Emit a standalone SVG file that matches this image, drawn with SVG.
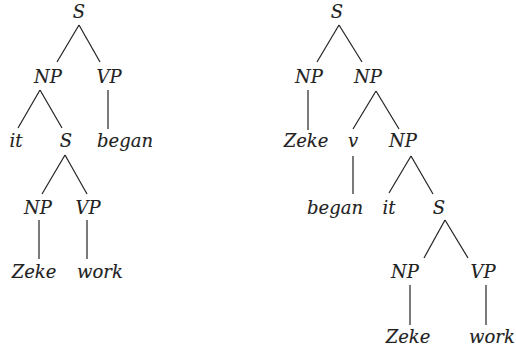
<svg xmlns="http://www.w3.org/2000/svg" width="516" height="348" viewBox="0 0 516 348">
  <style>
    text { font-family: "DejaVu Serif", "Liberation Serif", serif; font-style: italic; font-size: 18px; fill: #222; stroke: #222; stroke-width: 0.12; text-anchor: middle; }
    .edges line { stroke: #222; stroke-width: 1.2; fill: none; }
  </style>
  <rect width="516" height="348" fill="#fff"/>

  <!-- Tree A: [S [NP it [S [NP Zeke] [VP work]]] [VP began]] -->
  <g id="a-s"><text x="79" y="18">S</text></g>
  <g id="a-np"><text x="48" y="83">NP</text></g>
  <g id="a-vp"><text x="109" y="83">VP</text></g>
  <g id="a-it"><text x="16" y="147">it</text></g>
  <g id="a-s2"><text x="66" y="147">S</text></g>
  <g id="a-began"><text x="125" y="147">began</text></g>
  <g id="a-np2"><text x="38" y="214">NP</text></g>
  <g id="a-vp2"><text x="88" y="214">VP</text></g>
  <g id="a-zeke"><text x="34" y="278">Zeke</text></g>
  <g id="a-work"><text x="100" y="278">work</text></g>

  <!-- Tree B: [S [NP Zeke] [NP [v began] [NP it [S [NP Zeke] [VP work]]]]] -->
  <g id="b-s"><text x="337" y="18">S</text></g>
  <g id="b-np1"><text x="309" y="83">NP</text></g>
  <g id="b-np2"><text x="368" y="83">NP</text></g>
  <g id="b-zeke"><text x="306" y="147">Zeke</text></g>
  <g id="b-v"><text x="353" y="147">v</text></g>
  <g id="b-np3"><text x="403" y="147">NP</text></g>
  <g id="b-began"><text x="335" y="214">began</text></g>
  <g id="b-it"><text x="389" y="214">it</text></g>
  <g id="b-s2"><text x="439" y="214">S</text></g>
  <g id="b-np4"><text x="405" y="278">NP</text></g>
  <g id="b-vp"><text x="483" y="278">VP</text></g>
  <g id="b-zeke2"><text x="408" y="343">Zeke</text></g>
  <g id="b-work"><text x="492" y="343">work</text></g>

  <g id="connectors" class="edges">
    <!-- Tree A -->
    <line x1="79" y1="25" x2="57" y2="62"/>
    <line x1="79" y1="25" x2="100" y2="62"/>
    <line x1="40" y1="90" x2="18" y2="128"/>
    <line x1="40" y1="90" x2="62" y2="128"/>
    <line x1="108" y1="90" x2="108" y2="129"/>
    <line x1="65" y1="155" x2="42" y2="194"/>
    <line x1="65" y1="155" x2="87" y2="194"/>
    <line x1="39" y1="220" x2="39" y2="259"/>
    <line x1="87" y1="220" x2="87" y2="259"/>
    <!-- Tree B -->
    <line x1="339" y1="25" x2="317" y2="62"/>
    <line x1="339" y1="25" x2="362" y2="62"/>
    <line x1="308" y1="90" x2="308" y2="130"/>
    <line x1="376" y1="91" x2="353" y2="129"/>
    <line x1="376" y1="91" x2="399" y2="129"/>
    <line x1="353" y1="156" x2="353" y2="194"/>
    <line x1="411" y1="156" x2="389" y2="193"/>
    <line x1="411" y1="156" x2="433" y2="194"/>
    <line x1="445" y1="220" x2="424" y2="258"/>
    <line x1="445" y1="220" x2="468" y2="258"/>
    <line x1="410" y1="285" x2="410" y2="325"/>
    <line x1="486" y1="285" x2="486" y2="325"/>
  </g>
</svg>
